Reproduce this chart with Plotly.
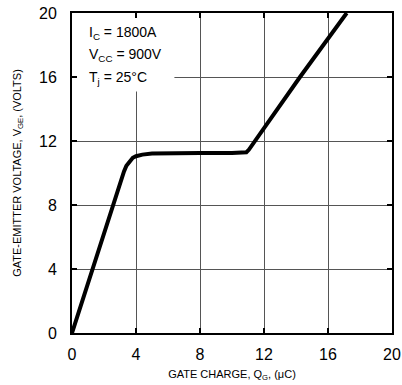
import plotly.graph_objects as go

# Gate charge curve
q_gate = [0, 1.0, 2.0, 2.9, 3.1, 3.25, 3.4, 3.6, 3.8, 4.0, 4.4, 5.0, 6.0, 8.0, 10.0, 10.7, 10.9, 11.05, 11.44, 14.25, 17.17]
v_ge = [0, 3.15, 6.3, 9.15, 9.65, 10.1, 10.45, 10.75, 10.95, 11.05, 11.15, 11.22, 11.25, 11.25, 11.25, 11.25, 11.3, 11.45, 12.0, 16.0, 20.0]

x_ticks = [0, 4, 8, 12, 16, 20]
y_ticks = [0, 4, 8, 12, 16, 20]

cond_labels = ["I<sub>C</sub> = 1800A", "V<sub>CC</sub> = 900V", "T<sub>j</sub> = 25°C"]
cond_y = [18.75, 17.35, 15.95]

FONT = "Liberation Sans, Arial, Helvetica, sans-serif"

fig = go.Figure()
fig.add_trace(go.Scatter(x=q_gate, y=v_ge, mode="lines",
                         line=dict(color="black", width=4), hoverinfo="skip"))

fig.add_shape(type="rect", xref="x", yref="y", x0=0.1, x1=6.4, y0=15.1, y1=19.9,
              fillcolor="white", line=dict(width=0), layer="between")

for txt, yy in zip(cond_labels, cond_y):
    fig.add_annotation(x=0.92, y=yy, xref="x", yref="y", text=txt, showarrow=False,
                       xanchor="left", yanchor="middle",
                       font=dict(family=FONT, size=14, color="black"))

axis_common = dict(
    showline=True, linecolor="black", linewidth=2, mirror="ticks",
    ticks="inside", ticklen=5, tickwidth=2, tickcolor="black",
    showgrid=True, gridcolor="#555555", gridwidth=1, zeroline=False,
    tickfont=dict(family=FONT, size=16, color="black"),
)

fig.update_xaxes(range=[0, 20], tickvals=x_ticks, ticktext=[str(v) for v in x_ticks],
                 ticklabelstandoff=6,
                 title=dict(text="GATE CHARGE, Q<sub>G</sub>, (μC)", standoff=8,
                            font=dict(family=FONT, size=11, color="black")),
                 **axis_common)
fig.update_yaxes(range=[0, 20], tickvals=y_ticks, ticktext=[str(v) for v in y_ticks],
                 ticklabelstandoff=10,
                 title=dict(text="GATE-EMITTER VOLTAGE, V<sub>GE</sub>, (VOLTS)", standoff=15,
                            font=dict(family=FONT, size=11, color="black")),
                 **axis_common)

fig.update_layout(
    width=402, height=385,
    margin=dict(l=72, r=10, t=13, b=52, autoexpand=False),
    plot_bgcolor="white", paper_bgcolor="white",
    showlegend=False,
    font=dict(family=FONT, color="black"),
)

fig.write_html("out.html")
